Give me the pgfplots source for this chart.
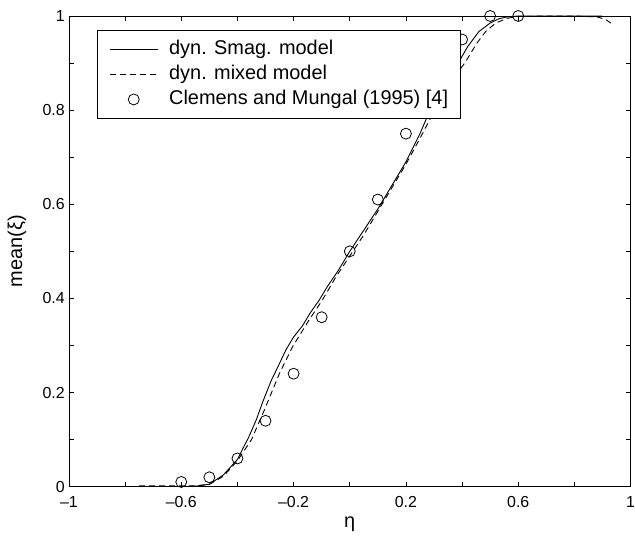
\documentclass[border=0pt]{standalone}
\usepackage{fontspec}
\setmainfont{Liberation Sans}
\usepackage{pgfplots}
\pgfplotsset{compat=1.18}
\pgfplotsset{
 lineleg/.style={legend image code/.code={\draw[##1] (0bp,0bp) -- (48bp,0bp);}},
 markleg/.style={legend image code/.code={\draw[##1] plot coordinates {(24bp,0bp)}; \path (0bp,0bp) (48bp,0bp);}},
}
\begin{document}
\begin{tikzpicture}
\begin{axis}[
 scale only axis, width=562bp, height=471bp,
 xmin=-1, xmax=1, ymin=0, ymax=1,
 xtick={-1,-0.6,-0.2,0.2,0.6,1},
 xticklabels={–1,–0.6,–0.2,0.2,0.6,1},
 minor xtick={-0.8,-0.4,0,0.4,0.8},
 ytick={0,0.2,0.4,0.6,0.8,1},
 yticklabels={0,0.2,0.4,0.6,0.8,1},
 minor ytick={0.1,0.3,0.5,0.7,0.9},
 tick align=inside, major tick length=5bp, minor tick length=5bp,
 tick style={black, line width=0.6bp},
 axis line style={line width=0.8bp},
 ticklabel style={font=\fontsize{16}{19}\selectfont},
 xticklabel style={anchor=center, inner sep=0pt, yshift=-15bp},
 yticklabel style={anchor=east, inner sep=0pt, xshift=-4bp},
 xlabel={η}, ylabel={mean(ξ)},
 label style={font=\fontsize{20}{23}\selectfont},
 xlabel style={at={(axis description cs:0.5,0)}, anchor=center, yshift=-38bp},
 ylabel style={at={(axis description cs:0,0.5)}, anchor=center, rotate=0, yshift=52bp},
 legend cell align=left,
 legend style={at={(0.0498,0.970)}, anchor=north west, draw=black, line width=0.8bp,
   font=\fontsize{20}{23}\selectfont, inner xsep=12bp, inner ysep=10bp,
   row sep=7bp, column sep=11bp,
   nodes={inner sep=0pt, text height=14bp, text depth=4bp}},
]
\addplot[black, line width=0.9bp, lineleg] coordinates {
(-0.75,0) (-0.6,0) (-0.55,0.001) (-0.5,0.005) (-0.45,0.025) (-0.4,0.058) (-0.36,0.105)
(-0.333,0.142) (-0.31,0.18) (-0.28,0.225) (-0.25,0.262) (-0.227,0.291) (-0.2,0.318)
(-0.168,0.342) (-0.14,0.37) (-0.108,0.397) (-0.08,0.425) (-0.04,0.46) (0,0.5)
(0.05,0.545) (0.1,0.59) (0.15,0.64) (0.2,0.69) (0.25,0.75) (0.294,0.811) (0.34,0.86)
(0.389,0.903) (0.42,0.935) (0.46,0.967) (0.5,0.985) (0.531,0.994) (0.56,0.998)
(0.6,1.0) (0.7,1.0) (0.8,1.0) (0.9,1.0)
};
\addlegendentry{dyn. Smag. model}
\addplot[black, line width=0.9bp, dash pattern=on 6bp off 4bp, lineleg] coordinates {
(-0.75,0.002) (-0.6,0.002) (-0.55,0.002) (-0.5,0.005) (-0.45,0.022) (-0.4,0.055)
(-0.35,0.1) (-0.304,0.163) (-0.25,0.241) (-0.203,0.298) (-0.144,0.355) (-0.097,0.397)
(-0.05,0.445) (0,0.49) (0.05,0.535) (0.1,0.585) (0.15,0.635) (0.2,0.685) (0.25,0.74)
(0.312,0.811) (0.36,0.86) (0.413,0.903) (0.45,0.94) (0.484,0.967) (0.52,0.985)
(0.56,0.995) (0.6,0.999) (0.7,1.0) (0.8,1.0) (0.88,0.998) (0.91,0.993) (0.93,0.985)
};
\addlegendentry{dyn. mixed model}
\addplot[black, only marks, mark=o, mark size=5.5bp, mark options={line width=0.8bp}, markleg] coordinates {
(-0.6,0.01) (-0.5,0.02) (-0.4,0.06) (-0.3,0.14) (-0.2,0.24) (-0.1,0.36) (0,0.5)
(0.1,0.61) (0.2,0.75) (0.3,0.87) (0.4,0.95) (0.5,1.0) (0.6,1.0)
};
\addlegendentry{Clemens and Mungal (1995) [4]}
\end{axis}
\path ([shift={(-69bp,-50bp)}]current axis.south west) rectangle ([shift={(4bp,16bp)}]current axis.north east);
\end{tikzpicture}
\end{document}
